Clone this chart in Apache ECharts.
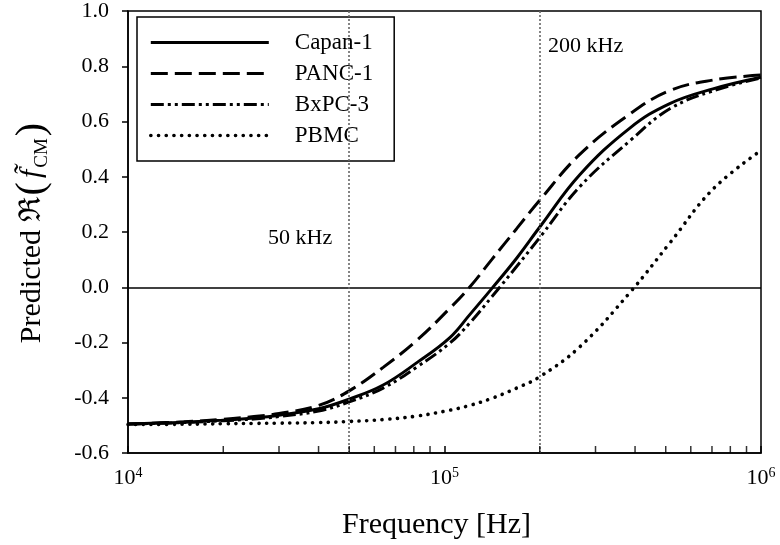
<!DOCTYPE html>
<html>
<head>
<meta charset="utf-8">
<script src="https://cdn.jsdelivr.net/npm/echarts@6/dist/echarts.min.js"></script>
<style>html,body{margin:0;padding:0;background:#fff}#c{width:780px;height:545px}</style>
</head>
<body>
<div id="c"></div>
<script>
// ---- data ----
const freqs = [10000, 15000, 20000, 25000, 30000, 40000, 50000, 64000, 82000, 104000, 120000, 141000, 169000, 200000, 268000, 386000, 515000, 705000, 1000000];
const seriesNames = ['Capan-1', 'PANC-1', 'BxPC-3', 'PBMC'];
const capan1 = [-0.495, -0.489, -0.481, -0.473, -0.463, -0.440, -0.405, -0.354, -0.272, -0.182, -0.100, -0.005, 0.105, 0.218, 0.408, 0.577, 0.665, 0.718, 0.760];
const panc1  = [-0.495, -0.487, -0.478, -0.468, -0.457, -0.428, -0.375, -0.290, -0.191, -0.076, 0.000, 0.100, 0.212, 0.315, 0.482, 0.628, 0.712, 0.750, 0.768];
const bxpc3  = [-0.495, -0.490, -0.483, -0.477, -0.468, -0.448, -0.415, -0.365, -0.288, -0.202, -0.130, -0.035, 0.075, 0.180, 0.365, 0.531, 0.646, 0.711, 0.758];
const pbmc   = [-0.497, -0.496, -0.494, -0.493, -0.492, -0.490, -0.486, -0.479, -0.466, -0.445, -0.428, -0.402, -0.365, -0.324, -0.215, -0.018, 0.160, 0.355, 0.495];
const yTicks = {min: -0.6, max: 1.0, interval: 0.2};
const xRange = {min: 10000, max: 1000000};
const minorTickFreqs = [20000, 30000, 40000, 50000, 60000, 70000, 80000, 90000, 200000, 300000, 400000, 500000, 600000, 700000, 800000, 900000];
const refFreqs = [50000, 200000];
const refLabels = ['50 kHz', '200 kHz'];

const FONT = 'Liberation Serif';
const pair = arr => freqs.map((f, i) => [f, arr[i]]);

const styles = [
  {type: 'solid', width: 3, cap: 'butt'},
  {type: [17, 7], width: 3, cap: 'butt'},
  {type: [13, 4, 3, 4, 3, 4], width: 3, cap: 'butt'},
  {type: [0.1, 7.6], width: 3.6, cap: 'round'}
];
const values = [capan1, panc1, bxpc3, pbmc];

const series = seriesNames.map((n, i) => ({
  name: n, type: 'line', data: pair(values[i]), smooth: 0.4, symbol: 'none',
  lineStyle: Object.assign({color: '#000'}, styles[i]), itemStyle: {color: '#000'}, z: 3
}));

series[0].markLine = {
  silent: true, symbol: ['none', 'none'], label: {show: false}, animation: false,
  data: [
    {yAxis: 0, lineStyle: {color: '#000', width: 1.5, type: 'solid'}},
    {xAxis: refFreqs[0], lineStyle: {color: '#666', width: 1.6, type: [2, 2]}},
    {xAxis: refFreqs[1], lineStyle: {color: '#666', width: 1.6, type: [2, 2]}}
  ]
};

series.push({
  name: 'minorTicks', type: 'scatter', silent: true, z: 5,
  data: minorTickFreqs.map(f => [f, yTicks.min]),
  symbol: 'rect', symbolSize: [1.5, 7], symbolOffset: [0, -3.5],
  itemStyle: {color: '#000'}, clip: false
});

const chart = echarts.init(document.getElementById('c'), null, {renderer: 'canvas'});
chart.setOption({
  animation: false,
  backgroundColor: '#fff',
  grid: {left: 128, right: 19, top: 10, bottom: 92, show: true, borderColor: '#000', borderWidth: 1.5, backgroundColor: 'transparent'},
  legend: {
    orient: 'vertical', left: 137, top: 17,
    data: seriesNames.map((n, i) => ({name: n, lineStyle: {width: styles[i].width}})),
    backgroundColor: '#fff', borderColor: '#000', borderWidth: 1.5,
    padding: [14, 21, 14, 12],
    itemWidth: 118, itemHeight: 14, itemGap: 8,
    itemStyle: {color: 'rgba(0,0,0,0)', borderWidth: 0, borderColor: 'rgba(0,0,0,0)'},
    textStyle: {fontFamily: FONT, fontSize: 23, color: '#000', lineHeight: 23, padding: [0, 0, 0, 21]},
    selectedMode: false
  },
  xAxis: {
    type: 'log', logBase: 10, min: xRange.min, max: xRange.max,
    name: 'Frequency [Hz]', nameLocation: 'middle', nameGap: 57,
    nameTextStyle: {fontFamily: FONT, fontSize: 30, color: '#000', padding: [0, 16, 0, 0]},
    axisLine: {onZero: false, lineStyle: {color: '#000', width: 1.5}},
    axisTick: {inside: true, length: 7, lineStyle: {color: '#000', width: 1.5}},
    splitLine: {show: false}, minorTick: {show: false},
    axisLabel: {
      margin: 13, color: '#000', fontFamily: FONT, fontSize: 22,
      formatter: v => '{b|10}{s|' + Math.round(Math.log10(v)) + '}',
      rich: {
        b: {fontFamily: FONT, fontSize: 22, color: '#000', lineHeight: 24},
        s: {fontFamily: FONT, fontSize: 14, verticalAlign: 'top', lineHeight: 24, padding: [0, 0, 10, 0], color: '#000'}
      }
    }
  },
  yAxis: {
    type: 'value', min: yTicks.min, max: yTicks.max, interval: yTicks.interval,
    name: 'Predicted \u211C{p|(}{f|f\u0303}{sub|CM}{p|)}', nameLocation: 'middle', nameGap: 76, nameRotate: 90,
    nameTextStyle: {fontFamily: FONT, fontSize: 30, color: '#000',
      rich: {p: {fontFamily: FONT, fontSize: 40, color: '#000', padding: [0, 2, 0, 2]},
             f: {fontFamily: FONT, fontSize: 30, fontStyle: 'italic', color: '#000', padding: [0, 2, 0, 2]},
             sub: {fontFamily: FONT, fontSize: 19, color: '#000', verticalAlign: 'bottom', padding: [10, 0, 0, 0]}}},
    axisLine: {show: true, lineStyle: {color: '#000', width: 1.5}},
    axisTick: {show: true, inside: false, length: 6, lineStyle: {color: '#000', width: 1.5}},
    splitLine: {show: false},
    axisLabel: {margin: 19, color: '#000', fontFamily: FONT, fontSize: 22, formatter: v => v.toFixed(1)}
  },
  graphic: [
    {type: 'text', left: 268, top: 227, style: {text: refLabels[0], fontFamily: FONT, fontSize: 22, fill: '#000'}, z: 10},
    {type: 'text', left: 548, top: 35, style: {text: refLabels[1], fontFamily: FONT, fontSize: 22, fill: '#000'}, z: 10}
  ],
  series: series
});
</script>
</body>
</html>
